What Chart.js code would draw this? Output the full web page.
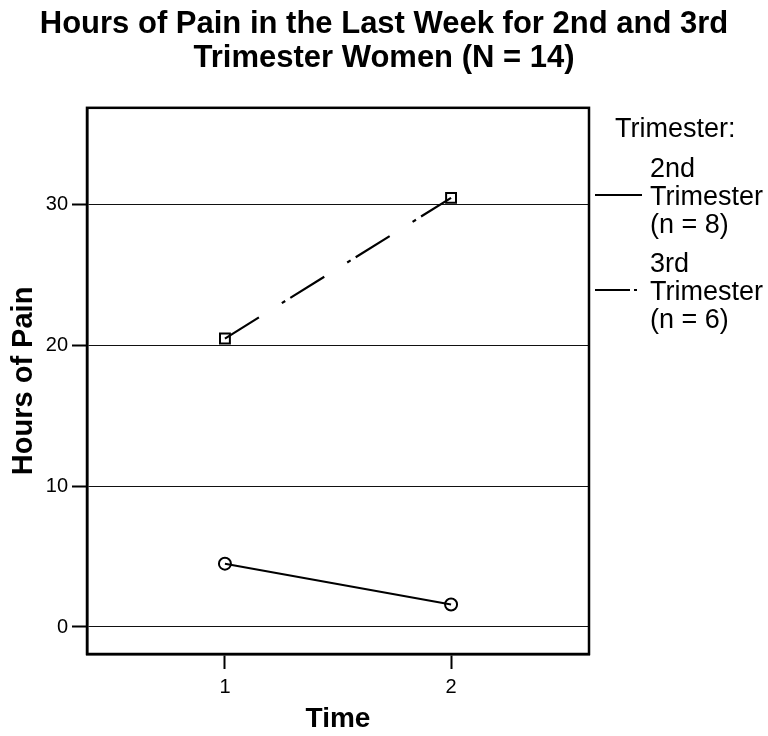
<!DOCTYPE html>
<html>
<head>
<meta charset="utf-8">
<title>Hours of Pain</title>
<script src="https://cdn.jsdelivr.net/npm/chart.js@4.4.1/dist/chart.umd.min.js"></script>
<style>
  html, body { margin: 0; padding: 0; background: #fff; }
  canvas { display: block; }
</style>
</head>
<body>
<canvas id="pain-chart" width="768" height="736"></canvas>
<script>
// values
const times = [1, 2];
const pain2nd = [4.5, 1.6];
const pain3rd = [20.5, 30.5];
const seriesNames = [['2nd', 'Trimester', '(n = 8)'], ['3rd', 'Trimester', '(n = 6)']];
const yTicks = [0, 10, 20, 30];
const xTicks = [1, 2];

const FONT = "'Liberation Sans', Arial, sans-serif";

// top/right sides of the box and the legend on the right
const framePlugin = {
  id: 'frameAndLegend',
  afterDraw(chart) {
    const { ctx, chartArea: a } = chart;
    ctx.save();
    ctx.strokeStyle = '#000';
    ctx.lineWidth = 2.5;
    ctx.strokeRect(a.left, a.top, a.right - a.left, a.bottom - a.top);

    // legend
    ctx.fillStyle = '#000';
    ctx.font = '27px ' + FONT;
    ctx.textBaseline = 'alphabetic';
    ctx.textAlign = 'left';
    ctx.fillText('Trimester:', a.right + 26, 137);

    const lineH = 28;
    let base = 177;
    chart.data.datasets.forEach((ds, i) => {
      ds.legendLines.forEach((t, j) => ctx.fillText(t, a.right + 61, base + j * lineH));
      const y = base + lineH - 10;
      ctx.beginPath();
      ctx.lineWidth = 2;
      ctx.setLineDash(i === 0 ? [] : [35, 4, 3, 60]);
      ctx.moveTo(a.right + 6, y);
      ctx.lineTo(a.right + 53, y);
      ctx.stroke();
      ctx.setLineDash([]);
      base += lineH * 2 + 39;
    });
    ctx.restore();
  }
};

new Chart(document.getElementById('pain-chart').getContext('2d'), {
  type: 'line',
  data: {
    datasets: [
      {
        label: seriesNames[0].join(' '),
        legendLines: seriesNames[0],
        data: times.map((t, i) => ({ x: t, y: pain2nd[i] })),
        borderColor: '#000',
        borderWidth: 2,
        pointStyle: 'circle',
        pointRadius: 6,
        pointBorderWidth: 2,
        pointBorderColor: '#000',
        pointBackgroundColor: 'rgba(0,0,0,0)'
      },
      {
        label: seriesNames[1].join(' '),
        legendLines: seriesNames[1],
        data: times.map((t, i) => ({ x: t, y: pain3rd[i] })),
        borderColor: '#000',
        borderWidth: 2.2,
        borderDash: [40, 27, 4, 6],
        pointStyle: 'rect',
        pointRadius: 7,
        pointBorderWidth: 2,
        pointBorderColor: '#000',
        pointBackgroundColor: 'rgba(0,0,0,0)'
      }
    ]
  },
  options: {
    responsive: false,
    animation: false,
    devicePixelRatio: 1,
    layout: { padding: 0 },
    plugins: {
      legend: { display: false },
      tooltip: { enabled: false },
      title: {
        display: true,
        text: ['Hours of Pain in the Last Week for 2nd and 3rd', 'Trimester Women (N = 14)'],
        color: '#000',
        font: { family: FONT, size: 31, weight: 'bold', lineHeight: 1.11 },
        padding: { top: 7, bottom: 32 }
      }
    },
    scales: {
      x: {
        type: 'linear',
        min: 0.39,
        max: 2.61,
        afterBuildTicks: s => { s.ticks = xTicks.map(v => ({ value: v })); },
        afterFit: s => { s.height = 82; },
        grid: {
          drawOnChartArea: false,
          tickLength: 15,
          tickWidth: 2,
          tickColor: '#000'
        },
        border: { color: '#000', width: 2.5 },
        ticks: {
          color: '#000',
          padding: 6,
          font: { family: FONT, size: 20 }
        },
        title: {
          display: true,
          text: 'Time',
          color: '#000',
          font: { family: FONT, size: 28, weight: 'bold', lineHeight: 1.2 },
          padding: { top: 0, bottom: 0 }
        }
      },
      y: {
        min: -1.92,
        max: 36.9,
        afterBuildTicks: s => { s.ticks = yTicks.map(v => ({ value: v })); },
        afterFit: s => { s.width = 87; },
        grid: {
          color: '#111',
          lineWidth: 1,
          tickLength: 15,
          tickWidth: 2,
          tickColor: '#000'
        },
        border: { color: '#000', width: 2.5 },
        ticks: {
          color: '#000',
          padding: 4,
          font: { family: FONT, size: 20 }
        },
        title: {
          display: true,
          text: 'Hours of Pain',
          color: '#000',
          font: { family: FONT, size: 29, weight: 'bold', lineHeight: 1.2 },
          padding: { top: 7, bottom: 0 }
        }
      },
      // empty axis on the right that keeps room for the legend
      legendSpace: {
        type: 'linear',
        position: 'right',
        grid: { display: false },
        border: { display: false },
        ticks: { display: false },
        afterFit: s => { s.width = 179; }
      }
    }
  },
  plugins: [framePlugin]
});
</script>
</body>
</html>
